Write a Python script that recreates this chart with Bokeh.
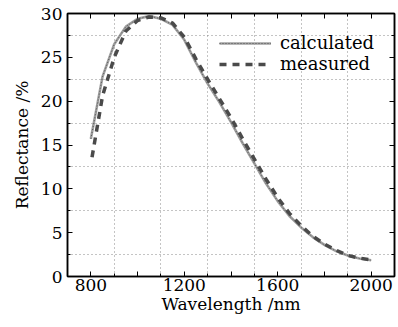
from bokeh.plotting import figure
from bokeh.models import (Range1d, FixedTicker, LinearAxis, Legend, LegendItem)
from bokeh.embed import file_html
from bokeh.resources import INLINE

# Data
wavelength_calc = [800, 850, 900, 950, 1000, 1050, 1100, 1150, 1200, 1250, 1300,
                   1350, 1400, 1450, 1500, 1550, 1600, 1650, 1700, 1750, 1800,
                   1850, 1900, 1950, 2000]
reflect_calc = [15.7, 22.8, 26.5, 28.5, 29.4, 29.7, 29.4, 28.7, 27.0, 24.4, 22.0,
                19.9, 17.6, 15.2, 12.9, 10.6, 8.6, 6.9, 5.6, 4.5, 3.6,
                2.9, 2.4, 2.05, 1.85]

wavelength_meas = [805, 850, 900, 950, 1000, 1050, 1100, 1150, 1200, 1250, 1300,
                   1350, 1400, 1450, 1500, 1550, 1600, 1650, 1700, 1750, 1800,
                   1850, 1900, 1950, 2000]
reflect_meas = [13.6, 20.6, 25.0, 28.0, 29.2, 29.6, 29.5, 28.9, 27.3, 24.8, 22.5,
                20.3, 18.1, 15.7, 13.4, 11.1, 9.0, 7.2, 5.8, 4.6, 3.7,
                3.0, 2.4, 2.1, 1.9]

x_ticks = [800, 1000, 1200, 1400, 1600, 1800, 2000]
x_tick_labels = {800: "800", 1000: "", 1200: "1200", 1400: "", 1600: "1600", 1800: "", 2000: "2000"}
x_grid = [900, 1100, 1300, 1500, 1700, 1900]
y_ticks = [0, 5, 10, 15, 20, 25, 30]
y_grid = [2.5, 7.5, 12.5, 17.5, 22.5, 27.5]

FONT = "'DejaVu Serif'"

p = figure(width=396, height=321, output_backend="svg", toolbar_location=None,
           x_range=Range1d(700, 2100), y_range=Range1d(0, 30),
           min_border_left=67, min_border_right=2, min_border_top=13, min_border_bottom=45)
p.background_fill_color = "white"
p.outline_line_color = "black"
p.outline_line_width = 1.5

for ax in (p.xaxis[0], p.yaxis[0]):
    ax.axis_line_width = 1.5
    ax.major_tick_in = 5
    ax.major_tick_out = 0
    ax.minor_tick_in = 3
    ax.minor_tick_out = 0
    ax.major_label_text_font = FONT
    ax.major_label_text_font_size = "17px"
    ax.major_label_text_color = "black"
    ax.axis_label_text_font = FONT
    ax.axis_label_text_font_size = "17px"
    ax.axis_label_text_font_style = "normal"
    ax.axis_label_text_color = "black"

p.xaxis[0].ticker = FixedTicker(ticks=x_ticks, minor_ticks=x_grid)
p.xaxis[0].major_label_overrides = x_tick_labels
p.xaxis[0].axis_label = "Wavelength /nm"
p.xaxis[0].axis_label_standoff = 0
p.xaxis[0].major_label_standoff = 2
p.yaxis[0].ticker = FixedTicker(ticks=y_ticks, minor_ticks=y_grid)
p.yaxis[0].axis_label = "Reflectance /%"
p.yaxis[0].axis_label_standoff = 6
p.yaxis[0].major_label_standoff = 5

top = LinearAxis(ticker=FixedTicker(ticks=x_ticks, minor_ticks=x_grid),
                 major_label_text_color=None, major_tick_in=5, major_tick_out=0,
                 minor_tick_in=3, minor_tick_out=0, axis_line_width=1.5)
right = LinearAxis(ticker=FixedTicker(ticks=y_ticks, minor_ticks=y_grid),
                   major_label_text_color=None, major_tick_in=5, major_tick_out=0,
                   minor_tick_in=3, minor_tick_out=0, axis_line_width=1.5)
top.major_label_text_font_size = "0px"
right.major_label_text_font_size = "0px"
top.major_label_standoff = 0
right.major_label_standoff = 0
p.add_layout(top, "above")
p.add_layout(right, "right")

p.xgrid.ticker = FixedTicker(ticks=x_grid)
p.ygrid.ticker = FixedTicker(ticks=y_grid)
for g in (p.xgrid, p.ygrid):
    g.grid_line_color = "#888888"
    g.grid_line_dash = "1 3"
    g.grid_line_width = 1

c1 = p.line(wavelength_calc, reflect_calc, line_color="#a0a0a0", line_width=2.6)
c2 = p.line(wavelength_calc, reflect_calc, line_color="#555555", line_width=1, line_dash="1 2")
m1 = p.line(wavelength_meas, reflect_meas, line_color="#4a4a4a", line_width=3.5, line_dash="7 6")

legend = Legend(items=[LegendItem(label="calculated", renderers=[c1, c2]),
                       LegendItem(label="measured", renderers=[m1])],
                location=(152, 202), padding=0, spacing=0, margin=0,
                glyph_width=52, glyph_height=20, label_height=20,
                label_standoff=9, border_line_alpha=0, background_fill_alpha=0,
                label_text_font=FONT, label_text_font_size="18px",
                label_text_color="black")
p.add_layout(legend, "center")

open("out.html", "w").write(file_html(p, INLINE))
